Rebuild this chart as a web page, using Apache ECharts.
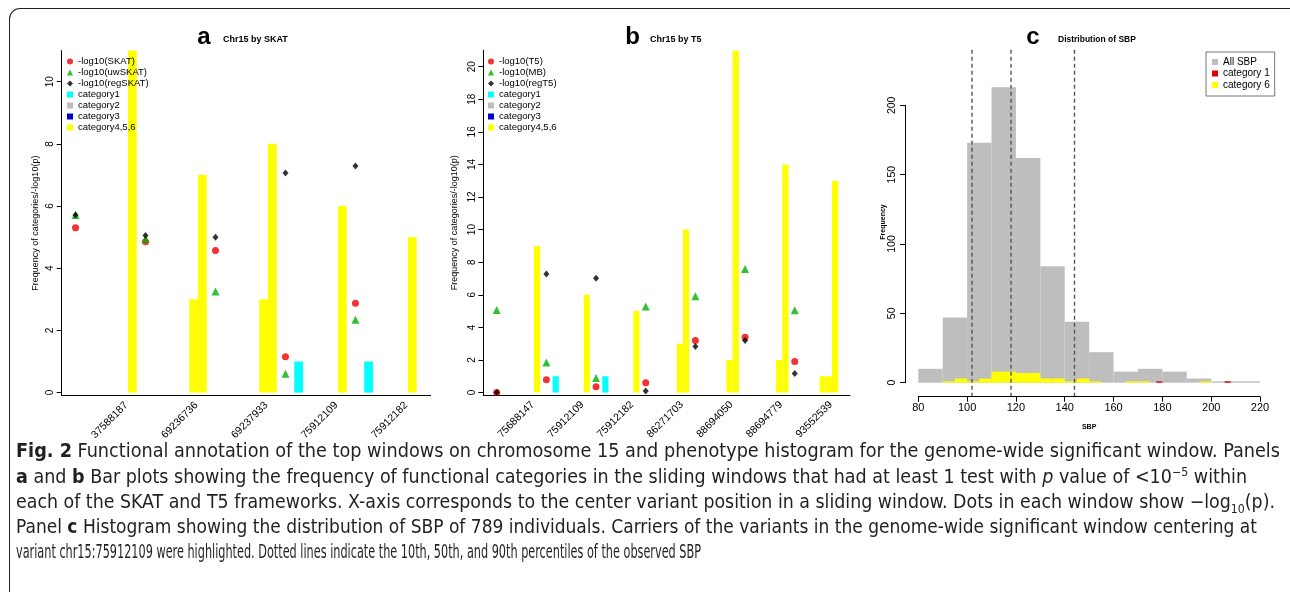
<!DOCTYPE html>
<html>
<head>
<meta charset="utf-8">
<script src="https://cdn.jsdelivr.net/npm/echarts@6/dist/echarts.min.js"></script>
<style>
body { margin: 0; background: #fff; }
#wrap { position: relative; width: 1290px; height: 592px; overflow: hidden; background: #fff; }
#chart { position: absolute; left: 0; top: 0; width: 1290px; height: 592px; }
#frame { position: absolute; left: 9px; top: 8px; width: 1400px; height: 700px; border-left: 1.5px solid #222; border-top: 1.5px solid #222; border-top-left-radius: 11px; }
.cap { position: absolute; left: 16px; white-space: nowrap; font-family: 'Liberation Sans Narrow', 'DejaVu Sans Condensed', 'Liberation Sans', sans-serif; font-size: 19px; line-height: 24px; color: #231f20; transform-origin: 0 50%; }
.cap sup, .cap sub { font-size: 12px; line-height: 0; }
</style>
</head>
<body>
<div id="wrap">
  <div id="chart"></div>
  <div id="frame"></div>
  <div class="cap" style="top:438px" data-w="1264"><b>Fig. 2</b> Functional annotation of the top windows on chromosome 15 and phenotype histogram for the genome-wide significant window. Panels</div>
  <div class="cap" style="top:464px" data-w="1231"><b>a</b> and <b>b</b> Bar plots showing the frequency of functional categories in the sliding windows that had at least 1 test with <i>p</i> value of &lt;10<sup>−5</sup> within</div>
  <div class="cap" style="top:489px" data-w="1259">each of the SKAT and T5 frameworks. X-axis corresponds to the center variant position in a sliding window. Dots in each window show −log<sub>10</sub>(p).</div>
  <div class="cap" style="top:514px" data-w="1241">Panel <b>c</b> Histogram showing the distribution of SBP of 789 individuals. Carriers of the variants in the genome-wide significant window centering at</div>
  <div class="cap" style="top:539px" data-w="685">variant chr15:75912109 were highlighted. Dotted lines indicate the 10th, 50th, and 90th percentiles of the observed SBP</div>
</div>
<script>
// 面板a: SKAT 窗口 (中心变异位置)
var winA = ['37588187', '69236736', '69237933', '75912109', '75912182'];
var catA1 = [0, 0, 0, 1, 1];
var catA2 = [0, 0, 0, 0, 0];
var catA3 = [0, 0, 0, 0, 0];
var catA4 = [0, 0, 0, 0, 0];
var catA5 = [0, 3, 3, 0, 0];
var catA6 = [11, 7, 8, 6, 5];
var skat = [5.3, 4.85, 4.57, 1.15, 2.87];
var uwSkat = [5.71, 4.94, 3.25, 0.61, 2.34];
var regSkat = [5.71, 5.05, 5.0, 7.06, 7.29];
var ticksA = [0, 2, 4, 6, 8, 10];

// 面板b: T5 窗口
var winB = ['75688147', '75912109', '75912182', '86271703', '88694050', '88694779', '93552539'];
var catB1 = [0, 1, 1, 0, 0, 0, 0];
var catB2 = [0, 0, 0, 0, 0, 0, 0];
var catB3 = [0, 0, 0, 0, 0, 0, 0];
var catB4 = [0, 0, 0, 0, 0, 0, 1];
var catB5 = [0, 0, 0, 3, 2, 2, 1];
var catB6 = [9, 6, 5, 10, 21, 14, 13];
var t5 = [0.0, 0.78, 0.35, 0.6, 3.19, 3.4, 1.9];
var mb = [5.07, 1.84, 0.9, 5.28, 5.91, 7.59, 5.05];
var regT5 = [0.0, 7.28, 7.02, 0.1, 2.82, 3.19, 1.17];
var ticksB = [0, 2, 4, 6, 8, 10, 12, 14, 16, 18, 20];

// 面板c: SBP 直方图
var sbpBreaks = [80, 90, 100, 110, 120, 130, 140, 150, 160, 170, 180, 190, 200, 210, 220];
var sbpAll = [10, 47, 173, 213, 162, 84, 44, 22, 8, 10, 8, 3, 1, 1];
var cat6Breaks = [90, 95, 100, 105, 110, 115, 120, 125, 130, 135, 140, 145, 150, 155, 160, 165, 170, 175, 180, 185, 190, 195, 200];
var cat6Count = [1, 3, 1, 3, 8, 8, 7, 7, 3, 3, 1, 3, 1, 0, 0, 1, 1, 0, 0, 0, 0, 1];
var cat1Bins = [[177.5, 180], [205.5, 208]];
var cat1Count = [1, 1];
var sbpPercentiles = [102, 118, 144];

// 版面 (槽位单位: 每组8个槽, 前2个为空隙放点)
var SLOTS = 8, DOT = 1, LABEL = 6.8;
var cPlotTop = 240, cPlotBottom = -9.5;
var FONT = 'Liberation Sans, Arial, sans-serif';

function slotData(arr, off) {
    return arr.map(function (v, g) { return [g * SLOTS + off, v]; });
}
function dotData(arr) {
    return arr.map(function (v, g) { return [g * SLOTS + DOT, v]; });
}
function labelPos(arr) {
    return arr.map(function (v, g) { return g * SLOTS + LABEL; });
}
function barItem(params, api) {
    var v = api.value(1);
    if (!v) return null;
    var s = api.value(0);
    var p0 = api.coord([s, v]);
    var p1 = api.coord([s + 1, 0]);
    return {
        type: 'rect',
        shape: { x: p0[0], y: p0[1], width: p1[0] - p0[0], height: p1[1] - p0[1] },
        style: { fill: api.visual('color') }
    };
}
function histItem(params, api) {
    var n = api.value(2);
    if (!n) return null;
    var p0 = api.coord([api.value(0), n]);
    var p1 = api.coord([api.value(1), 0]);
    return {
        type: 'rect',
        shape: { x: p0[0], y: p0[1], width: p1[0] - p0[0], height: p1[1] - p0[1] },
        style: { fill: api.visual('color') }
    };
}
function vlineItem(params, api) {
    var a = api.coord([api.value(0), cPlotTop]);
    var b = api.coord([api.value(0), cPlotBottom]);
    return {
        type: 'line',
        shape: { x1: a[0], y1: a[1], x2: b[0], y2: b[1] },
        style: { stroke: '#555', lineWidth: 1.4, lineDash: [4, 3] }
    };
}
function breaksData(breaks, counts) {
    return counts.map(function (n, i) { return [breaks[i], breaks[i + 1], n]; });
}

function panelSeries(idx, c1, c2, c3, c4, c5, c6, d1, d2, d3, names) {
    var base = { type: 'custom', xAxisIndex: idx, yAxisIndex: idx, renderItem: barItem, clip: false };
    return [
        Object.assign({}, base, { name: 'category1', itemStyle: { color: '#00ffff' }, data: slotData(c1, 2) }),
        Object.assign({}, base, { name: 'category2', itemStyle: { color: '#bebebe' }, data: slotData(c2, 3) }),
        Object.assign({}, base, { name: 'category3', itemStyle: { color: '#0000cd' }, data: slotData(c3, 4) }),
        Object.assign({}, base, { name: 'category4,5,6', itemStyle: { color: '#ffff00' },
            data: slotData(c4, 5).concat(slotData(c5, 6), slotData(c6, 7)) }),
        { type: 'scatter', name: names[0], xAxisIndex: idx, yAxisIndex: idx, symbol: 'circle', symbolSize: 7,
          itemStyle: { color: '#ee0000' }, data: dotData(d1) },
        { type: 'scatter', name: names[1], xAxisIndex: idx, yAxisIndex: idx, symbol: 'triangle', symbolSize: 8,
          itemStyle: { color: '#00b000' }, data: dotData(d2) },
        { type: 'scatter', name: names[2], xAxisIndex: idx, yAxisIndex: idx, symbol: 'diamond', symbolSize: [6, 7],
          itemStyle: { color: '#000' }, data: dotData(d3) }
    ];
}

function legendFor(left, names) {
    return {
        left: left, top: 56.5, orient: 'vertical', padding: 0, itemGap: 1,
        itemWidth: 6, itemHeight: 6, selectedMode: false,
        textStyle: { fontSize: 9.5, fontFamily: FONT, color: '#000', lineHeight: 10 },
        data: [
            { name: names[0], icon: 'circle' },
            { name: names[1], icon: 'triangle' },
            { name: names[2], icon: 'diamond' },
            { name: 'category1', icon: 'rect' },
            { name: 'category2', icon: 'rect' },
            { name: 'category3', icon: 'rect' },
            { name: 'category4,5,6', icon: 'rect' }
        ]
    };
}

var lineBlack = { show: true, onZero: false, lineStyle: { color: '#000', width: 1 } };

function xAxisBar(idx, min, max, names) {
    return {
        gridIndex: idx, type: 'value', min: min, max: max,
        axisLine: lineBlack, axisTick: { show: false }, splitLine: { show: false },
        axisLabel: {
            customValues: labelPos(names), rotate: 45, margin: 8, fontSize: 10.5, fontFamily: FONT, color: '#000',
            formatter: function (v) { return names[Math.round((v - LABEL) / SLOTS)] || ''; }
        }
    };
}
function yAxisBar(idx, min, max, ticks, gap) {
    return {
        gridIndex: idx, type: 'value', min: min, max: max,
        name: 'Frequency of categories/-log10(p)', nameLocation: 'middle', nameGap: gap,
        nameTextStyle: { fontSize: 9, fontFamily: FONT, color: '#000' },
        axisLine: lineBlack, splitLine: { show: false },
        axisTick: { show: true, length: 5, customValues: ticks, lineStyle: { color: '#000' } },
        axisLabel: { customValues: ticks, rotate: 90, margin: 6, fontSize: 10, fontFamily: FONT, color: '#000' }
    };
}

var chart = echarts.init(document.getElementById('chart'));
var option = {
    animation: false,
    backgroundColor: 'transparent',
    grid: [
        { left: 61.7, top: 50.6, width: 369, height: 345.1, outerBoundsMode: 'none' },
        { left: 483.3, top: 50.4, width: 366.7, height: 344.6, outerBoundsMode: 'none' },
        { left: 918.3, top: 105.3, width: 341.7, height: 277.4, outerBoundsMode: 'none' }
    ],
    xAxis: [
        xAxisBar(0, -0.58, 41.6, winA),
        xAxisBar(1, -1.16, 57.9, winB),
        {
            gridIndex: 2, type: 'value', min: 80, max: 220, interval: 20, offset: 14,
            name: 'SBP', nameLocation: 'middle', nameGap: 27,
            nameTextStyle: { fontSize: 7, fontWeight: 'bold', fontFamily: FONT, color: '#000' },
            axisLine: lineBlack, splitLine: { show: false },
            axisTick: { show: true, length: 5, lineStyle: { color: '#000' } },
            axisLabel: { margin: 6, fontSize: 11, fontFamily: FONT, color: '#000' }
        }
    ],
    yAxis: [
        yAxisBar(0, -0.1, 11, ticksA, 22),
        yAxisBar(1, -0.15, 21, ticksB, 24),
        {
            gridIndex: 2, type: 'value', min: 0, max: 200, interval: 50, offset: 13.3,
            axisLine: lineBlack, splitLine: { show: false },
            axisTick: { show: true, length: 5, lineStyle: { color: '#000' } },
            axisLabel: { rotate: 90, margin: 7, fontSize: 10.5, fontFamily: FONT, color: '#000' }
        }
    ],
    legend: [
        legendFor(67, ['-log10(SKAT)', '-log10(uwSKAT)', '-log10(regSKAT)']),
        legendFor(488, ['-log10(T5)', '-log10(MB)', '-log10(regT5)']),
        {
            left: 1206, top: 52, orient: 'vertical', padding: [5, 5, 6, 6], itemGap: 1.5,
            itemWidth: 6, itemHeight: 6, selectedMode: false,
            borderColor: '#777', borderWidth: 1, borderRadius: 0,
            textStyle: { fontSize: 10, fontFamily: FONT, color: '#000', lineHeight: 10 },
            data: [
                { name: 'All SBP', icon: 'rect' },
                { name: 'category 1', icon: 'rect' },
                { name: 'category 6', icon: 'rect' }
            ]
        }
    ],
    graphic: [
        { type: 'text', x: 204, y: 37.5, style: { text: 'a', font: 'bold 24px ' + FONT, textAlign: 'center', textVerticalAlign: 'middle', fill: '#000' } },
        { type: 'text', x: 223, y: 40, style: { text: 'Chr15 by SKAT', font: 'bold 9px ' + FONT, textAlign: 'left', textVerticalAlign: 'middle', fill: '#000' } },
        { type: 'text', x: 632.5, y: 37.5, style: { text: 'b', font: 'bold 24px ' + FONT, textAlign: 'center', textVerticalAlign: 'middle', fill: '#000' } },
        { type: 'text', x: 650, y: 40, style: { text: 'Chr15 by T5', font: 'bold 9px ' + FONT, textAlign: 'left', textVerticalAlign: 'middle', fill: '#000' } },
        { type: 'text', x: 1033, y: 37.5, style: { text: 'c', font: 'bold 24px ' + FONT, textAlign: 'center', textVerticalAlign: 'middle', fill: '#000' } },
        { type: 'text', x: 1058, y: 40, style: { text: 'Distribution of SBP', font: 'bold 8.5px ' + FONT, textAlign: 'left', textVerticalAlign: 'middle', fill: '#000' } },
        { type: 'text', x: 883, y: 222, rotation: Math.PI / 2, style: { text: 'Frequency', font: 'bold 7px ' + FONT, textAlign: 'center', textVerticalAlign: 'middle', fill: '#000' } }
    ],
    series: [].concat(
        panelSeries(0, catA1, catA2, catA3, catA4, catA5, catA6, skat, uwSkat, regSkat,
            ['-log10(SKAT)', '-log10(uwSKAT)', '-log10(regSKAT)']),
        panelSeries(1, catB1, catB2, catB3, catB4, catB5, catB6, t5, mb, regT5,
            ['-log10(T5)', '-log10(MB)', '-log10(regT5)']),
        [
            { type: 'custom', name: 'All SBP', xAxisIndex: 2, yAxisIndex: 2, clip: false, renderItem: histItem,
              itemStyle: { color: '#bebebe' }, data: breaksData(sbpBreaks, sbpAll) },
            { type: 'custom', name: 'category 6', xAxisIndex: 2, yAxisIndex: 2, clip: false, renderItem: histItem,
              itemStyle: { color: '#ffff00' }, data: breaksData(cat6Breaks, cat6Count) },
            { type: 'custom', name: 'category 1', xAxisIndex: 2, yAxisIndex: 2, clip: false, renderItem: histItem,
              itemStyle: { color: '#dd0000' },
              data: cat1Count.map(function (n, i) { return [cat1Bins[i][0], cat1Bins[i][1], n]; }) },
            { type: 'custom', name: 'percentiles', xAxisIndex: 2, yAxisIndex: 2, clip: false, renderItem: vlineItem,
              data: sbpPercentiles.map(function (p) { return [p]; }) }
        ]
    )
};
chart.setOption(option);

// 图注: 每行拉伸到原图宽度
function fitCaption() {
    var lines = document.querySelectorAll('.cap');
    for (var i = 0; i < lines.length; i++) {
        var el = lines[i];
        el.style.transform = 'none';
        var w = el.getBoundingClientRect().width;
        el.style.transform = 'scaleX(' + (Number(el.getAttribute('data-w')) / w) + ')';
    }
}
fitCaption();
if (document.fonts && document.fonts.ready) document.fonts.ready.then(fitCaption);
</script>
</body>
</html>
